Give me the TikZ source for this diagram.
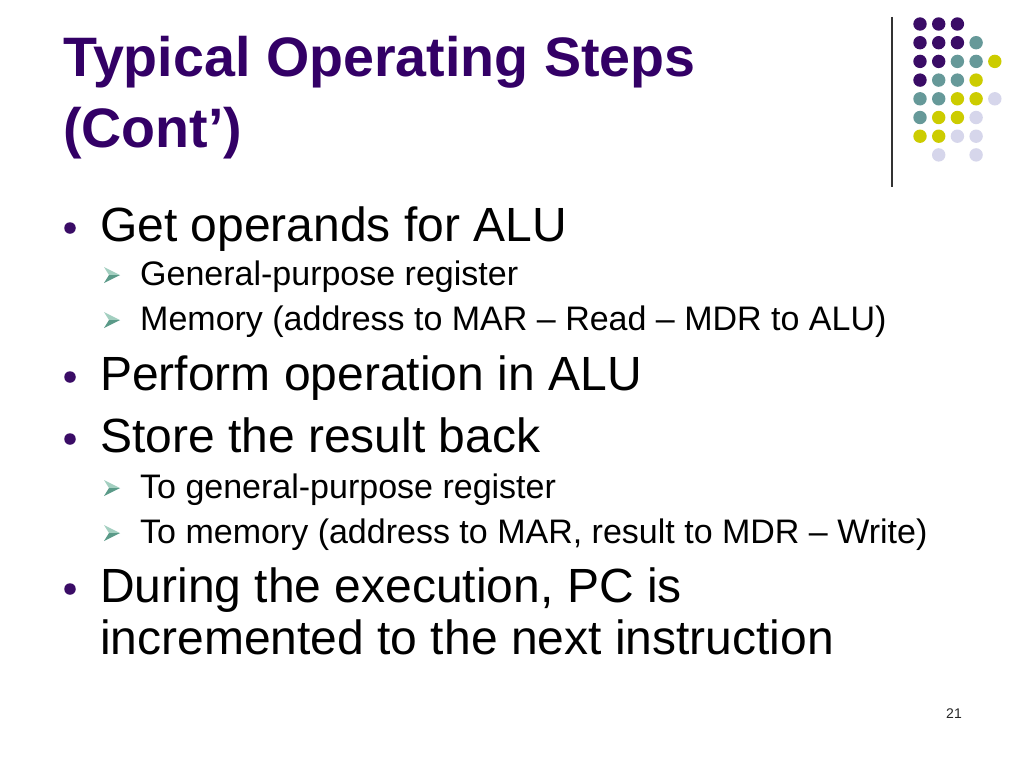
\documentclass[tikz,border=0pt]{standalone}
\usepackage{fontspec}
\setmainfont{Liberation Sans}
\usetikzlibrary{positioning}
\definecolor{titlepurple}{HTML}{330066}
\definecolor{dotP}{HTML}{3A0C66}
\definecolor{dotT}{HTML}{669999}
\definecolor{dotY}{HTML}{CCCC00}
\definecolor{dotL}{HTML}{D6D6EB}
\definecolor{arrowLight}{HTML}{A3CFC0}
\definecolor{arrowDark}{HTML}{5A9A88}

\begin{document}
\begin{tikzpicture}[x=1pt,y=-1pt,
	title/.style={anchor=base west, inner sep=0pt, text=titlepurple, font=\fontsize{55.6}{66}\selectfont\bfseries},
	itemtext/.style={anchor=base west, inner sep=0pt, font=\fontsize{48}{52}\selectfont},
	subtext/.style={anchor=base west, inner sep=0pt, font=\fontsize{34}{40}\selectfont},
	bigdot/.style={circle, fill=dotP, inner sep=0pt, minimum size=11.5pt}]
	\useasboundingbox (0,0) rectangle (1024,768);
	\fill[white] (0,0) rectangle (1024,768);

	% title
	\node[title] (T1) at (63,77) {Typical Operating Steps};
	\node[title] (T2) at (63,147) {(Cont’)};

	% dot grid and rule
	\draw[line width=1.2pt, black!80] (892,17) -- (892,187);
	\foreach \c/\r/\col in {0/0/dotP,1/0/dotP,2/0/dotP,
		0/1/dotP,1/1/dotP,2/1/dotP,3/1/dotT,
		0/2/dotP,1/2/dotP,2/2/dotT,3/2/dotT,4/2/dotY,
		0/3/dotP,1/3/dotT,2/3/dotT,3/3/dotY,
		0/4/dotT,1/4/dotT,2/4/dotY,3/4/dotY,4/4/dotL,
		0/5/dotT,1/5/dotY,2/5/dotY,3/5/dotL,
		0/6/dotY,1/6/dotY,2/6/dotL,3/6/dotL,
		1/7/dotL,3/7/dotL}
		\fill[\col] ({920+18.7*\c},{24+18.7*\r}) circle (6.7);

	% bullets
	\node[bigdot] (b1) at (70,228) {};
	\node[itemtext] (i1) at (100,241) {Get operands for ALU};
	\node[subtext] (s1) at (140,285) {General-purpose register};
	\node[subtext] (s2) at (140,330) {Memory (address to MAR – Read – MDR to ALU)};
	\node[bigdot] (b2) at (70,377) {};
	\node[itemtext] (i2) at (100,390) {Perform operation in ALU};
	\node[bigdot] (b3) at (70,439) {};
	\node[itemtext] (i3) at (100,452) {Store the result back};
	\node[subtext] (s3) at (140,498) {To general-purpose register};
	\node[subtext] (s4) at (140,543) {To memory (address to MAR, result to MDR – Write)};
	\node[bigdot] (b4) at (70,589) {};
	\node[itemtext] (i4) at (100,602) {During the execution, PC is};
	\node[itemtext] (i5) at (100,654) {incremented to the next instruction};

	% arrow bullets
	\foreach \y in {285,330,498,543} {
		\fill[arrowLight] (104,\y-18) -- (120,\y-10) -- (109,\y-10) -- cycle;
		\fill[arrowDark] (104,\y-2) -- (120,\y-10) -- (109,\y-10) -- cycle;
	}

	% page number
	\node[anchor=base, inner sep=0pt, font=\fontsize{14}{16}\selectfont, text=black!85] (pg) at (954,718) {21};
\end{tikzpicture}
\end{document}
